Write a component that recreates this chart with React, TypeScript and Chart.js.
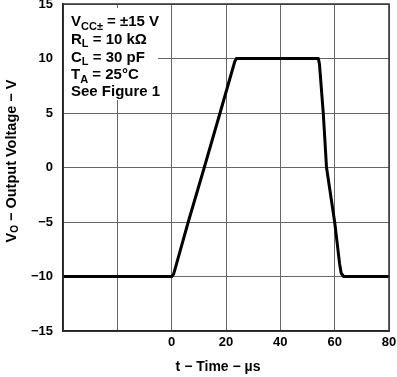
import React, { useEffect, useRef } from "react";
import { Chart, registerables } from "chart.js";

Chart.register(...registerables);

const timeUs = [-40, 0, 0.7, 1.6, 6.1, 12.0, 17.8, 23.2, 23.8, 54.0, 54.4, 55.8, 57.0, 60.0, 61.8, 62.4, 63.3, 80];
const voltage = [-10, -10, -9.8, -9.0, -5, 0, 5, 9.7, 10, 10, 9.5, 5, 0, -5, -8.8, -9.7, -10, -10];
const xTicksShown = [0, 20, 40, 60, 80];
const xTitle = "t − Time − µs";
const yTitleParts = [
  { t: "V", sub: false },
  { t: "O", sub: true },
  { t: " − Output Voltage − V", sub: false },
];
const noteLines = [
  [{ t: "V", sub: false }, { t: "CC±", sub: true }, { t: " = ±15 V", sub: false }],
  [{ t: "R", sub: false }, { t: "L", sub: true }, { t: " = 10 kΩ", sub: false }],
  [{ t: "C", sub: false }, { t: "L", sub: true }, { t: " = 30 pF", sub: false }],
  [{ t: "T", sub: false }, { t: "A", sub: true }, { t: " = 25°C", sub: false }],
  [{ t: "See Figure 1", sub: false }],
];

const FAMILY = '"Liberation Sans", Arial, sans-serif';

function drawParts(ctx: CanvasRenderingContext2D, parts: { t: string; sub: boolean }[], x: number, y: number, size: number) {
  let cx = x;
  for (const p of parts) {
    ctx.font = `bold ${p.sub ? Math.round(size * 0.7) : size}px ${FAMILY}`;
    ctx.fillText(p.t, cx, p.sub ? y + size * 0.25 : y);
    cx += ctx.measureText(p.t).width;
  }
  return cx - x;
}
function measureParts(ctx: CanvasRenderingContext2D, parts: { t: string; sub: boolean }[], size: number) {
  let w = 0;
  for (const p of parts) {
    ctx.font = `bold ${p.sub ? Math.round(size * 0.7) : size}px ${FAMILY}`;
    w += ctx.measureText(p.t).width;
  }
  return w;
}

const decorPlugin = {
  id: "decor",
  beforeDatasetsDraw(chart: any) {
    const ctx = chart.ctx as CanvasRenderingContext2D;
    const a = chart.chartArea;
    ctx.save();
    ctx.fillStyle = "#ffffff";
    ctx.fillRect(a.left + 1, 8, 158 - a.left - 1, 92);
    ctx.fillStyle = "#000";
    ctx.textAlign = "left";
    ctx.textBaseline = "alphabetic";
    const baselines = [26, 43.5, 61.5, 79, 95.5];
    noteLines.forEach((ln, i) => drawParts(ctx, ln, 71, baselines[i], 15));
    ctx.restore();
  },
  afterDraw(chart: any) {
    const ctx = chart.ctx as CanvasRenderingContext2D;
    ctx.save();
    ctx.fillStyle = "#000";
    ctx.textBaseline = "middle";
    ctx.textAlign = "center";
    ctx.font = `bold 14px ${FAMILY}`;
    ctx.fillText(xTitle, 218, 367);
    ctx.translate(12, 161);
    ctx.rotate(-Math.PI / 2);
    ctx.textAlign = "left";
    ctx.textBaseline = "middle";
    const w = measureParts(ctx, yTitleParts, 14.5);
    drawParts(ctx, yTitleParts, -w / 2, 0, 14.5);
    ctx.restore();
  },
};

export default function App() {
  const ref = useRef<HTMLCanvasElement | null>(null);
  useEffect(() => {
    if (!ref.current) return;
    const tickFont = { family: FAMILY, size: 13, weight: "bold" as const };
    const chart = new Chart(ref.current, {
      type: "line",
      data: {
        datasets: [
          {
            data: timeUs.map((t, i) => ({ x: t, y: voltage[i] })),
            borderColor: "#000",
            borderWidth: 3,
            pointRadius: 0,
            tension: 0,
            fill: false,
            borderJoinStyle: "round",
          },
        ],
      },
      options: {
        animation: false,
        responsive: false,
        maintainAspectRatio: false,
        layout: { padding: { top: 4, right: 8, left: 0, bottom: 0 } },
        plugins: { legend: { display: false }, tooltip: { enabled: false } },
        scales: {
          x: {
            type: "linear",
            min: -40,
            max: 80,
            afterFit: (s: any) => { s.height = 46; s.paddingLeft = 0; s.paddingRight = 0; },
            ticks: {
              stepSize: 20,
              color: "#000",
              font: tickFont,
              padding: 4,
              maxRotation: 0,
              callback: (v: any) => (xTicksShown.includes(Number(v)) ? String(v) : ""),
            },
            grid: { color: "#666", lineWidth: 1, drawTicks: false },
            border: { display: true, color: "#000", width: 1.5 },
          },
          y: {
            min: -15,
            max: 15,
            afterFit: (s: any) => { s.width = 63; s.paddingTop = 0; s.paddingBottom = 0; },
            ticks: {
              stepSize: 5,
              color: "#000",
              font: tickFont,
              padding: 10,
              callback: (v: any) => (Number(v) < 0 ? "−" + Math.abs(Number(v)) : String(v)),
            },
            grid: { color: "#666", lineWidth: 1, drawTicks: false },
            border: { display: true, color: "#000", width: 1.5 },
          },
        },
      },
      plugins: [
        decorPlugin,
        {
          id: "frame",
          afterDatasetsDraw(chart: any) {
            const ctx = chart.ctx;
            const a = chart.chartArea;
            ctx.save();
            ctx.strokeStyle = "#333";
            ctx.lineWidth = 1.5;
            ctx.strokeRect(a.left, a.top, a.right - a.left, a.bottom - a.top);
            ctx.restore();
          },
        },
      ],
    } as any);
    return () => chart.destroy();
  }, []);
  return (
    <div style={{ position: "fixed", left: 0, top: 0, width: 397, height: 377, background: "#fff" }}>
      <canvas ref={ref} width={397} height={377} style={{ width: 397, height: 377, display: "block" }} />
    </div>
  );
}
